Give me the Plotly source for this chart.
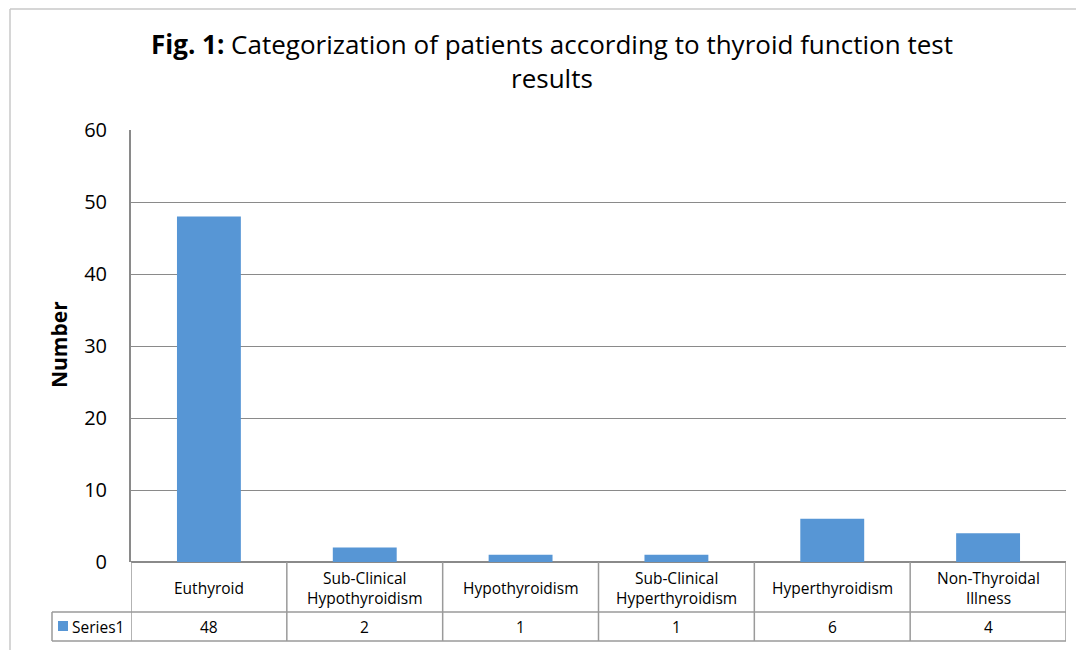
import plotly.graph_objects as go

categories = ["Euthyroid", "Sub-Clinical<br>Hypothyroidism", "Hypothyroidism",
              "Sub-Clinical<br>Hyperthyroidism", "Hyperthyroidism", "Non-Thyroidal<br>Illness"]
values = [48, 2, 1, 1, 6, 4]
series_name = "Series1"

FONT = "Open Sans, Lato, sans-serif"
# page has an 8px body margin, so the figure is offset by 8px
W, H = 1076, 642
L, R, T, B = 123, 18, 122, 88
PW, PH = W - L - R, H - T - B


def px_x(px):  # reference-image pixel -> paper x
    return (px - 131) / PW


def px_y(py):  # reference-image pixel -> paper y
    return (562 - py) / PH


BAR = "#5796d5"
GRID = "#8a8a8a"
TBL = "#9a9a9a"

xs = list(range(len(categories)))
fig = go.Figure()
fig.add_trace(go.Bar(x=xs, y=values, width=0.41, marker=dict(color=BAR, line=dict(width=0)),
                     name=series_name, showlegend=False))

shapes = []
annotations = []
row1 = px_y(612)
row2 = px_y(641)
lw = 1.5
# table horizontal lines
shapes.append(dict(type="line", xref="paper", yref="paper", x0=px_x(52), x1=1, y0=row1, y1=row1,
                   line=dict(color=TBL, width=lw)))
shapes.append(dict(type="line", xref="paper", yref="paper", x0=px_x(52), x1=1, y0=row2, y1=row2,
                   line=dict(color=TBL, width=lw)))
shapes.append(dict(type="line", xref="paper", yref="paper", x0=px_x(52), x1=px_x(52), y0=row1, y1=row2,
                   line=dict(color=TBL, width=lw)))
# vertical lines
for k in range(len(categories) + 1):
    shapes.append(dict(type="line", xref="x", yref="paper", x0=k - 0.5, x1=k - 0.5, y0=0, y1=row2,
                       line=dict(color=TBL, width=lw)))
# chart area border
shapes.append(dict(type="line", xref="paper", yref="paper", x0=px_x(10), x1=px_x(10), y0=px_y(9), y1=px_y(700),
                   line=dict(color="#c8c8c8", width=1.5)))
shapes.append(dict(type="line", xref="paper", yref="paper", x0=px_x(10), x1=px_x(1100), y0=px_y(9), y1=px_y(9),
                   line=dict(color="#c8c8c8", width=1.5)))
# legend key
shapes.append(dict(type="rect", xref="paper", yref="paper", x0=px_x(58), x1=px_x(68), y0=px_y(631), y1=px_y(621),
                   fillcolor=BAR, line=dict(width=0)))

for i, (c, v) in enumerate(zip(categories, values)):
    annotations.append(dict(x=i, y=px_y(588), xref="x", yref="paper", text=c, showarrow=False,
                            xanchor="center", yanchor="middle",
                            font=dict(size=15.5, color="#000", family=FONT), align="center"))
    annotations.append(dict(x=i, y=px_y(627), xref="x", yref="paper", text=str(v), showarrow=False,
                            xanchor="center", yanchor="middle",
                            font=dict(size=15.5, color="#000", family=FONT)))
annotations.append(dict(x=px_x(70), y=px_y(627), xref="paper", yref="paper", text=series_name,
                        showarrow=False, xanchor="left", yanchor="middle",
                        font=dict(size=15.5, color="#000", family=FONT)))
annotations.append(dict(x=px_x(552), y=px_y(61), xref="paper", yref="paper",
                        text="<b>Fig. 1:</b> Categorization of patients according to thyroid function test<br>results",
                        showarrow=False, align="center", xanchor="center", yanchor="middle",
                        font=dict(size=26, color="#000", family=FONT)))
annotations.append(dict(x=px_x(59), y=px_y(345), xref="paper", yref="paper", text="<b>Number</b>",
                        showarrow=False, textangle=-90, xanchor="center", yanchor="middle",
                        font=dict(size=21, color="#000", family=FONT)))

fig.update_layout(
    width=W, height=H,
    margin=dict(l=L, r=R, t=T, b=B, autoexpand=False),
    paper_bgcolor="white", plot_bgcolor="white",
    shapes=shapes, annotations=annotations,
    xaxis=dict(range=[-0.5, len(categories) - 0.5], showticklabels=False, showgrid=False,
               zeroline=False, showline=False, ticks="", automargin=False),
    yaxis=dict(range=[0, 60], dtick=10, tickfont=dict(size=20, family=FONT, color="#000"),
               gridcolor=GRID, gridwidth=1, showline=True, linecolor=GRID, linewidth=2,
               zeroline=True, zerolinecolor=GRID, zerolinewidth=2, ticks="",
               ticklabelstandoff=18, automargin=False),
    showlegend=False,
)
fig.write_html("out.html")
